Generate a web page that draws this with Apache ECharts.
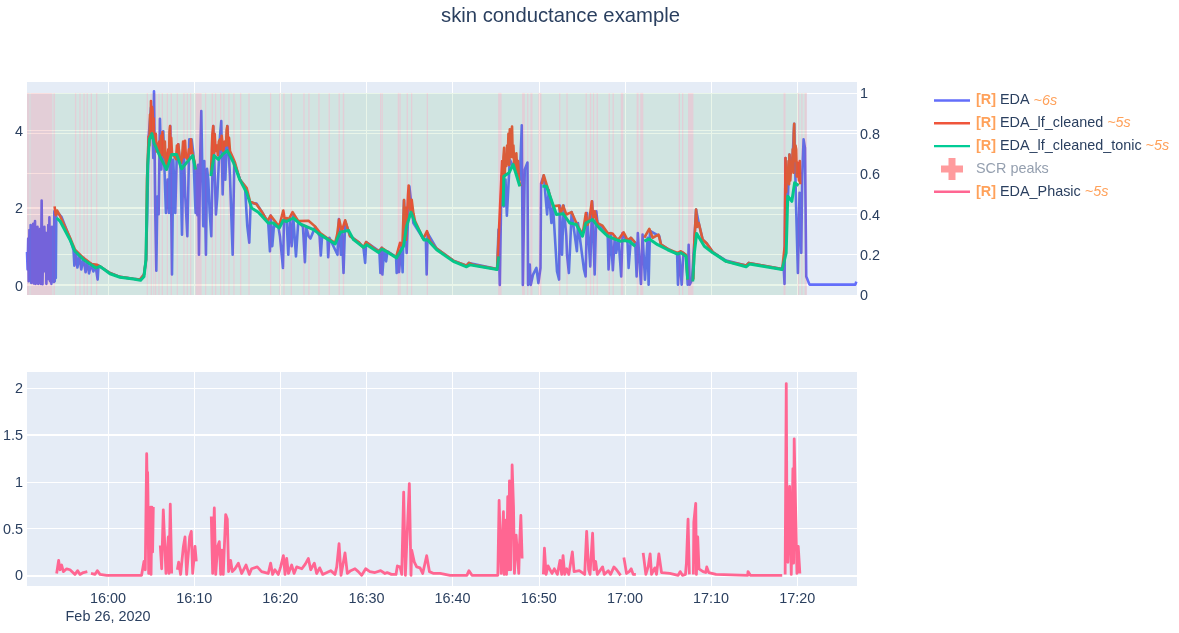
<!DOCTYPE html>
<html><head><meta charset="utf-8">
<style>html,body{margin:0;padding:0;background:#fff}#c{width:1179px;height:633px}</style>
<script src="https://cdn.jsdelivr.net/npm/echarts@6/dist/echarts.min.js"></script>
</head><body><div id="c"></div>
<script>
// All series: [minutes relative to 16:00 on Feb 26 2020, value]; null marks a gap.
const edaPoints=[[-9.4,.85],[-9.33,.4],[-9.26,1.2],[-9.2,.1],[-9.12,1.42],[-9.05,.35],[-8.98,1.55],[-8.9,.05],[-8.83,1.2],[-8.75,.4],[-8.68,1.58],[-8.6,.04],[-8.53,1.1],[-8.47,1.65],[-8.4,.03],[-8.33,1.3],[-8.26,.35],[-8.18,1.5],[-8.1,.03],[-8.02,1.2],[-7.95,.05],[-7.88,1.45],[-7.8,.03],[-7.7,2.18],[-7.6,.02],[-7.52,1.1],[-7.45,.35],[-7.38,1.5],[-7.3,.4],[-7.22,1.35],[-7.15,.03],[-7.07,1],[-7,.4],[-6.93,1.55],[-6.85,.15],[-6.8,1.75],[-6.72,.1],[-6.65,1.3],[-6.57,.03],[-6.5,1.5],[-6.42,.12],[-6.35,1.35],[-6.28,.08],[-6.23,1.9],[-6.18,.1],[-6.12,1.8],[-6.06,.18],[-6,1.85],[-5.76,1.85],[-5.38,1.75],[-4.41,1.2],[-4,.9],[-3.9,.5],[-3.7,.85],[-3.55,.45],[-3.3,.75],[-3.1,.4],[-2.85,.7],[-2.6,.33],[-2.4,.62],[-2.2,.3],[-1.95,.55],[-1.7,.35],[-1.45,.5],[-1.2,.14],[-1.1,.5],[-.93,.48],[.23,.31],[1.39,.21],[2.94,.16],[3.71,.14],[4.18,.27],[4.41,.65],[4.56,1.86],[4.72,3.83],[4.99,4.58],[5.14,4.45],[5.26,3.28],[5.34,5],[5.49,1.86],[5.61,.37],[5.73,2.28],[5.88,1.83],[6.03,4.29],[6.19,2.98],[6.42,3.97],[6.62,2.55],[6.73,1.86],[6.92,2.72],[7.08,1.86],[7.23,4.1],[7.43,.27],[7.58,3.24],[7.81,1.86],[7.97,3.24],[8.16,3.63],[8.43,2.98],[8.59,1.3],[8.78,3.67],[8.97,2.29],[9.21,1.26],[9.44,3.76],[9.71,3.76],[9.9,3.41],[10.17,1.86],[10.29,2.98],[10.38,1.8],[10.47,3.1],[10.56,.78],[10.7,3.3],[10.83,4.49],[10.95,2.9],[11.06,1.52],[11.18,3.2],[11.28,1.9],[11.37,.78],[11.5,3],[11.64,2.72],[11.8,1.9],[11.99,1.26],[12.22,4.1],[12.53,1.82],[12.69,2.29],[13,3.84],[13.15,4.23],[13.31,2.34],[13.46,3.59],[13.62,2.72],[13.85,4.1],[14.16,2.81],[14.47,.78],[14.66,3.16],[15.32,2.72],[15.9,2.55],[16.17,1.52],[16.4,1.09],[16.56,2.12],[17.25,2.1],[17.83,1.9],[18.6,1.6],[18.8,.87],[18.88,1.79],[19.07,1],[19.26,1.52],[19.77,1.52],[19.96,1.26],[20.31,.44],[20.43,1.69],[20.73,1.69],[20.93,.78],[21.12,1.69],[21.32,1],[21.5,1.78],[21.82,.74],[22.09,1.65],[22.63,1.5],[22.86,.59],[23,1.5],[23.28,1.26],[23.5,1.2],[24.05,1.5],[24.56,1.26],[24.7,.76],[24.85,1.26],[25.48,1.2],[25.56,.72],[25.7,1.22],[26.45,.87],[26.64,.78],[26.8,1.7],[27.03,.78],[27.14,1.45],[27.34,.31],[27.53,1.65],[28.1,1.26],[29.07,1.11],[29.65,.97],[29.85,.57],[29.96,1.11],[31.5,.87],[31.62,.31],[31.78,.96],[31.85,.27],[32.05,.91],[32.28,.61],[32.44,.87],[33.44,.72],[33.51,.31],[33.7,.91],[33.78,.33],[34.05,1],[34.2,.33],[34.36,2.19],[34.67,.83],[34.83,1.73],[34.98,2.55],[35.45,1.6],[35.64,1.65],[36.6,1.19],[36.9,1.17],[36.99,.27],[37.1,1.34],[38.15,.94],[40.08,.63],[41.62,.5],[41.9,.57],[45.17,.41],[45.33,1.43],[45.48,0],[45.68,2.81],[45.95,2.03],[46.14,2.72],[46.3,1.79],[46.64,3.24],[47.8,2.72],[48.03,4.12],[48.15,0],[48.38,2.98],[48.69,3.16],[48.76,0],[48.96,.53],[49.07,0],[49.34,.27],[49.73,.44],[49.96,.05],[50.2,.44],[50.27,2.62],[50.58,2.83],[50.97,1.82],[51.16,2.45],[51.47,1.6],[51.66,2.03],[52.12,.35],[52.36,.14],[52.44,2.05],[52.7,.78],[52.89,2.05],[53.2,1.26],[53.28,.78],[53.5,.31],[53.82,1.88],[54.43,.87],[54.55,1.6],[55.25,.4],[55.44,.22],[55.6,1.86],[55.98,.48],[56.2,2.16],[56.49,.27],[56.68,1.9],[56.82,1.6],[58,1.34],[58.1,.4],[58.37,1.34],[58.6,.38],[58.83,1.26],[58.99,.83],[59.26,1.19],[59.57,.22],[59.73,1.34],[60.31,1.09],[60.43,.44],[60.7,1.22],[61.2,1.09],[61.36,.22],[61.5,1.34],[61.86,.03],[62.05,1.3],[62.33,.14],[62.64,1.22],[62.75,.01],[62.91,1.4],[63.99,1.26],[64.2,1.04],[65.16,.91],[66.06,.8],[66.16,.01],[66.32,.78],[66.59,.01],[66.79,.83],[67.1,.74],[67.29,.01],[67.4,1.04],[67.52,.01],[67.79,.14],[68.06,1.13],[68.26,1.95],[68.57,1.6],[69.03,1.17],[69.5,1.07],[70.2,.85],[71.74,.63],[74.07,.5],[74.38,.57],[78.26,.41],[78.41,.53],[78.53,.03],[78.64,3.28],[78.9,2.12],[79.1,3.37],[79.4,2.98],[79.65,4.16],[79.88,1.95],[80.08,.31],[80.27,2.38],[80.47,.83],[80.58,2.81],[80.74,3.76],[80.9,3.54],[81.05,.22],[81.43,.01],[86.75,.01],[86.86,.09]];
const cleanedPoints=[[-6.2,2.03],[-6.05,1.8],[-5.9,1.92],[-5.76,1.88],[-5.6,1.8],[-5.38,1.78],[-4.4,1.22],[-3.83,.91],[-2.86,.7],[-1.9,.54],[-1.24,.52],[-.93,.48],[.23,.31],[1.39,.21],[2.94,.16],[3.71,.14],[4.18,.27],[4.41,.65],[4.53,2.72],[4.64,3.4],[4.72,3.83],[4.8,3.6],[4.88,4.4],[4.94,3.8],[4.99,4.75],[5.05,3.95],[5.12,4.6],[5.18,4.49],[5.24,3.8],[5.3,4.3],[5.34,3.76],[5.45,3.6],[5.55,3.9],[5.65,3.45],[5.84,3.41],[5.95,3.7],[6.05,3.4],[6.15,3.85],[6.22,3.35],[6.32,3.95],[6.42,3.93],[6.52,3.3],[6.6,3.7],[6.69,3.24],[6.8,3.1],[6.92,3.15],[7,3.5],[7.08,3.2],[7.14,3.95],[7.2,4.1],[7.27,3.4],[7.34,3.8],[7.43,3.41],[7.6,3.35],[7.78,3.37],[7.9,3.25],[8,3.6],[8.08,3.3],[8.16,3.63],[8.3,3.3],[8.47,3.15],[8.6,3.3],[8.72,3.7],[8.8,3.3],[8.94,3.72],[9.05,3.3],[9.25,3.24],[9.4,3.5],[9.55,3.4],[9.63,3.76],[9.75,3.45],[9.9,3.46],[10.03,3.2],[10.17,2.98],[10.2,null],[11.95,2.85],[12.05,3.5],[12.12,3.9],[12.22,4.1],[12.3,3.4],[12.38,3.9],[12.5,3.46],[12.65,3.6],[12.75,3.35],[12.87,3.7],[13,3.76],[13.1,3.5],[13.2,3.85],[13.38,3.46],[13.55,3.7],[13.7,3.6],[13.77,4],[13.85,4.1],[13.95,3.6],[14.05,3.8],[14.16,3.46],[14.74,3.16],[15.3,2.72],[16.1,2.5],[16.48,2.16],[17.25,2.08],[17.83,1.9],[18.5,1.65],[18.88,1.79],[19.57,1.59],[19.88,1.52],[20.35,1.92],[20.55,1.65],[20.73,1.73],[21,1.7],[21.43,1.88],[22.09,1.65],[23.28,1.66],[24,1.52],[24.63,1.34],[25.4,1.22],[26.37,1.09],[26.6,1.3],[26.83,1.69],[27.14,1.39],[27.53,1.67],[28.1,1.26],[29.07,1.11],[29.65,.97],[29.96,1.11],[30.8,.96],[31.4,.87],[31.78,.96],[32.36,.87],[33.44,.72],[33.9,1.09],[34.17,1],[34.36,2.19],[34.45,1.5],[34.52,2],[34.6,1.17],[34.72,1.8],[34.82,2.3],[34.9,2.57],[34.97,2.57],[35.05,2],[35.13,1.9],[35.25,2.2],[35.33,2.16],[35.45,1.85],[35.64,1.65],[36.6,1.19],[37.03,1.39],[37.37,1.13],[38.15,.94],[40.08,.63],[41.62,.5],[41.9,.57],[42.4,.52],[45.17,.41],[45.37,1.34],[45.75,3.2],[45.82,2.5],[45.9,3.3],[45.98,3.54],[46.05,2.8],[46.12,3.3],[46.25,3.07],[46.33,3.6],[46.4,3.2],[46.48,3.9],[46.56,3.1],[46.64,4.02],[46.72,3.3],[46.8,3.85],[46.9,4.09],[46.98,3.3],[47.06,3.6],[47.14,3.15],[47.22,3.33],[47.3,3.05],[47.4,3.4],[47.5,2.9],[47.6,3.2],[47.7,2.7],[47.88,2.55],[47.9,null],[50.35,2.6],[50.58,2.83],[50.97,2.55],[51.66,2.03],[52.32,2.05],[52.55,1.85],[52.82,2.05],[53.2,1.82],[53.82,1.88],[54.36,1.6],[55.08,1.3],[55.47,1.86],[55.65,1.55],[55.85,1.65],[56.16,2.16],[56.32,1.7],[56.5,1.9],[56.82,1.6],[57.4,1.53],[58,1.34],[58.57,1.33],[58.95,1.22],[59.22,1.16],[59.85,1.36],[60.31,1.16],[60.7,1.22],[61.2,1.09],[61.25,null],[62.25,1.22],[62.83,1.45],[63.22,1.22],[63.9,1.3],[64.2,1.04],[65.16,.91],[66.12,.83],[66.5,.87],[67.1,.78],[67.29,.14],[67.32,null],[67.95,.14],[68.06,1.13],[68.26,1.95],[68.4,1.5],[68.57,1.6],[69.03,1.17],[69.5,1.07],[70.2,.85],[71.74,.61],[74.07,.5],[74.38,.57],[78.26,.41],[78.55,1],[78.64,3.28],[78.72,2.4],[78.8,3],[78.9,2.72],[79,3.2],[79.06,2.6],[79.1,3.37],[79.2,2.7],[79.3,3.1],[79.4,2.98],[79.48,3.5],[79.56,2.9],[79.6,3.9],[79.65,4.16],[79.72,3.2],[79.8,3.6],[79.88,3.5],[79.95,2.8],[80.08,3.15],[80.2,2.7],[80.3,3.2],[80.35,2.6]];
const tonicPoints=[[-5.96,1.73],[-5.57,1.65],[-4.41,1.17],[-3.83,.87],[-2.86,.66],[-1.39,.44],[-.93,.48],[.23,.29],[1.39,.2],[2.94,.155],[3.79,.12],[4.18,.22],[4.41,.65],[4.6,3.07],[4.8,3.76],[5.1,3.91],[5.34,3.67],[6.11,3.28],[6.8,2.98],[7.39,3.37],[7.97,3.37],[8.55,3],[9.13,3.16],[9.83,3.34],[10.17,2.98],[10.2,null],[11.95,2.81],[12.3,3.34],[12.8,3.24],[13.3,3.37],[13.85,3.47],[14.55,3.17],[15.3,2.72],[16.1,2.38],[16.67,1.99],[17.45,1.88],[18.6,1.6],[19.19,1.6],[19.88,1.47],[20.35,1.67],[20.73,1.64],[21.5,1.73],[22.3,1.58],[23.86,1.43],[24.63,1.3],[26.37,1.06],[26.95,1.36],[27.92,1.41],[28.5,1.17],[29.65,.97],[30.04,1.04],[31.4,.84],[31.78,.93],[32.36,.86],[33.5,.7],[34.3,1],[34.67,1.52],[35.17,1.88],[35.64,1.6],[36.68,1.16],[37.07,1.17],[38.15,.91],[40.08,.61],[41.62,.47],[42,.52],[45.17,.4],[45.37,.74],[45.4,null],[45.87,2.03],[45.95,2.81],[46.56,2.9],[47.03,3.11],[47.8,2.55],[47.85,null],[50.42,2.55],[50.9,2.55],[52.05,1.82],[52.82,1.84],[53.6,1.6],[54.36,1.56],[55.08,1.26],[55.47,1.6],[56.24,1.69],[57.02,1.47],[58,1.26],[58.95,1.17],[59.53,1.13],[59.92,1.15],[60.5,1.13],[61.2,1],[61.25,null],[62.25,1.13],[62.83,1.19],[63.8,1.04],[64.96,.91],[66.12,.8],[66.5,.83],[67.1,.74],[67.29,.14],[67.32,null],[67.87,.09],[68.06,.83],[68.33,1.33],[69.22,1],[70.2,.83],[71.74,.61],[74.07,.47],[74.46,.54],[78.26,.4],[78.72,.83],[78.9,2.29],[79.38,2.16],[79.7,2.64],[80.16,2.57]];
const phasicPoints=[[-5.96,.02],[-5.73,.16],[-5.57,.06],[-5.38,.11],[-5.18,.04],[-4.8,.07],[-4.41,.06],[-3.83,.01],[-3.52,.05],[-3.25,.01],[-2.86,.03],[-2.4,.04],[-2.3,null],[-1.97,.02],[-1.5,.01],[-1.24,.05],[-.93,.01],[-.15,0],[3.9,0],[4.18,.15],[4.33,.06],[4.49,1.3],[4.56,.9],[4.6,1.1],[4.64,.84],[4.72,.02],[4.84,.41],[4.95,.73],[5,.01],[5.1,.73],[5.18,.25],[5.26,.73],[5.3,null],[6.07,.32],[6.23,.07],[6.42,.7],[6.58,.7],[6.73,.02],[6.85,.01],[7,.41],[7.08,.02],[7.23,.76],[7.39,.02],[7.42,null],[8.05,.06],[8.2,.14],[8.43,.01],[8.74,.3],[8.94,.41],[9.13,.01],[9.48,.41],[9.67,.47],[9.83,.02],[10.1,.31],[10.25,.15],[10.3,null],[11.99,.63],[12.15,.02],[12.34,.72],[12.5,.01],[12.73,.31],[12.92,.36],[13.08,.01],[13.23,.27],[13.38,.01],[13.66,.65],[13.85,.6],[14,.04],[14.24,.16],[14.43,.04],[14.74,.07],[15.13,.13],[15.52,.02],[16.02,.11],[16.4,.01],[16.67,.07],[17.33,.09],[17.83,.04],[18.6,.02],[18.88,.13],[19.11,.01],[19.38,.06],[19.77,.01],[20.04,.09],[20.36,.21],[20.55,.01],[20.74,.18],[20.95,.02],[21.32,.11],[21.6,.02],[21.9,.09],[22.5,.07],[22.9,.12],[23.26,.18],[23.53,.06],[23.95,.13],[24.22,.02],[24.57,.08],[24.92,.01],[25.85,.05],[26.35,.01],[26.55,.09],[26.82,.34],[27.05,0],[27.51,.24],[27.78,.02],[28.17,.05],[28.67,.07],[29.05,.04],[29.45,0],[29.91,.07],[30.4,.04],[30.99,.03],[31.65,.05],[32.15,.02],[32.4,.03],[32.9,.01],[33.43,.01],[33.59,.1],[33.9,.09],[34.1,.01],[34.32,.89],[34.52,0],[34.98,.98],[35.17,0],[35.25,.27],[35.56,.14],[35.83,.09],[36.22,.08],[36.53,.02],[36.99,.21],[37.31,.04],[37.8,.02],[38.55,.02],[39.7,0],[40,0],[41.66,0],[41.9,.05],[42.25,0],[45.25,0],[45.4,.8],[45.64,.02],[45.9,.68],[45.98,.01],[46.18,.59],[46.26,.01],[46.4,.84],[46.52,.06],[46.6,1.01],[46.75,.06],[46.91,1.18],[47.07,.73],[47.18,.02],[47.37,.43],[47.53,.45],[47.68,.02],[47.76,.3],[47.92,.64],[48.07,.18],[48.12,null],[50.54,.01],[50.66,.29],[50.85,.01],[51.08,.1],[51.31,.1],[51.54,.02],[51.81,.07],[52.16,.01],[52.47,.16],[52.66,.01],[52.82,.21],[53.01,.01],[53.24,.07],[53.49,.01],[53.9,.25],[54.1,.04],[54.71,.05],[55.33,.01],[55.56,.47],[55.79,.06],[55.95,.01],[56.25,.45],[56.41,.06],[56.6,.15],[56.8,.01],[57.41,.09],[57.6,.01],[58.07,.05],[58.34,.01],[58.73,.09],[59.03,.06],[59.5,0],[59.55,null],[59.88,.19],[60.19,.02],[60.5,.04],[60.73,.07],[60.96,.01],[61.27,.01],[61.32,null],[62.12,.24],[62.43,.01],[62.7,.09],[62.93,.23],[63.09,.01],[63.47,.08],[63.67,.01],[63.94,.23],[64.25,.03],[65.21,.02],[66.18,0],[66.41,.04],[66.68,0],[67.03,.01],[67.14,.13],[67.33,.6],[67.48,.01],[67.52,null],[67.95,.01],[68,.57],[68.22,.77],[68.3,.01],[68.45,.41],[68.6,.07],[69.07,.04],[69.38,.03],[69.5,.09],[69.73,.03],[70.58,.01],[74.25,0],[74.29,.04],[74.56,0],[78.26,0],[78.3,null],[78.6,.01],[78.73,2.05],[78.8,.72],[78.92,.14],[79.12,.95],[79.31,.01],[79.5,1.14],[79.58,.13],[79.65,1.46],[79.8,.77],[79.97,.02],[80.12,.31],[80.31,.02]];
const artifactStarts=[-9.44,-9,-6.33,-3.83,-3.33,-2.86,-2.48,-2.01,-1.39,4.49,4.95,5.26,5.45,5.84,6.23,6.81,7.27,7.97,8.74,9.13,9.52,10.17,11.26,12.03,12.42,13,13.38,13.97,14.55,15.32,16.29,18.8,19.88,20.35,21.2,22.67,23.25,24.41,25.6,26.76,27.26,31.58,31.78,33.63,33.82,34.67,35.17,36.99,45.29,48.07,48.65,49.03,49.96,52.36,53.2,55.44,55.93,56.29,56.71,58.1,58.57,59.53,61.36,61.78,66.24,66.63,67.33,78.41,80.08,80.47,80.85];
const artifactEnds=[-9.1,-6.45,-6.15,-3.68,-3.18,-2.71,-2.33,-1.86,-1.24,4.64,5.1,5.37,5.6,5.99,6.38,6.96,7.42,8.12,8.89,9.28,9.67,10.87,11.41,12.18,12.57,13.15,13.53,14.12,14.7,15.47,16.44,18.95,20.03,20.5,21.35,22.82,23.4,24.56,25.75,26.91,27.41,31.73,31.9,33.78,33.97,34.82,35.32,37.14,45.68,48.38,48.8,49.27,50.31,52.51,53.35,55.59,56.08,56.44,56.86,58.25,58.72,59.81,61.59,62.13,66.39,66.78,67.95,78.64,80.23,80.62,81.12];
const validStart=-9.44, validEnd=81.12;
const xMinMinutes=-9.4, xMaxMinutes=86.94;
const xTickMinutes=[0,10,20,30,40,50,60,70,80];
const topTicksLeft=[0,2,4], topTicksRight=[0,.2,.4,.6,.8,1], phasicTicks=[0,.5,1,1.5,2];
const legendParts={
 'EDA':['[R]','EDA','~6s'],
 'EDA_lf_cleaned':['[R]','EDA_lf_cleaned','~5s'],
 'EDA_lf_cleaned_tonic':['[R]','EDA_lf_cleaned_tonic','~5s'],
 'EDA_Phasic':['[R]','EDA_Phasic','~5s']
};
const C={eda:'#636EFA',cleaned:'#EF553B',tonic:'#00CC96',peaks:'#FF8285',phasic:'#FF6692',text:'#2a3f5f',plot:'#E5ECF6',orange:'#FFA15A'};
const FONT='"Liberation Sans", Arial, sans-serif';
const FS=14.4;
const base=new Date(2020,1,26,16,0,0).getTime();
const T=m=>base+m*60000;
const pts=a=>a.map(p=>[T(p[0]),p[1]]);
// green fills the stretches between artifact bands
const validAreas=[];
{let s=validStart;artifactStarts.forEach((a,i)=>{if(a>s)validAreas.push([{xAxis:T(s),yAxis:0},{xAxis:T(a),yAxis:1}]);s=artifactEnds[i];});}
const xTicks=xTickMinutes.map(T);
const lineIcon='path://M0 0h.01v.01h-.01z M36 22h-.01v-.01h.01z M0 9.8H36V12.2H0Z';
const crossIcon='path://M0 0h.01v.01h-.01z M36 22h-.01v-.01h.01z M14.5 0H21.5V7.5H29V14.5H21.5V22H14.5V14.5H7V7.5H14.5Z';
const lineSeries=(name,data,color,y,w,z)=>({name,type:'line',xAxisIndex:y==2?1:0,yAxisIndex:y,data:pts(data),showSymbol:false,symbol:'none',connectNulls:false,z,
  itemStyle:{color},lineStyle:{color,width:w,join:'round'},emphasis:{disabled:true}});
const xAxisBase={type:'value',scale:true,min:T(xMinMinutes),max:T(xMaxMinutes),
  axisLine:{show:false},axisTick:{show:false,customValues:xTicks},splitLine:{show:true,lineStyle:{color:'#fff',width:1}}};
const yAxisBase={type:'value',axisLine:{show:false},splitLine:{show:true,lineStyle:{color:'#fff',width:1}}};
const labelStyle={color:C.text,fontSize:FS,fontFamily:FONT};
const yLabel=(ticks,margin,pad)=>Object.assign({},labelStyle,{margin,customValues:ticks,formatter:v=>`{a|${v}}`,
  rich:{a:{color:C.text,fontSize:FS,fontFamily:FONT,padding:[pad,0,0,0]}}});
const chart=echarts.init(document.getElementById('c'));
const gridDefs=[{left:27,right:322,top:82,height:213,backgroundColor:C.plot,show:true,borderWidth:0},
                {left:27,right:322,top:372,height:214,backgroundColor:C.plot,show:true,borderWidth:0}];
chart.setOption({
 animation:false,backgroundColor:'#fff',textStyle:{fontFamily:FONT},
 title:{text:'skin conductance example',left:436,top:1,textStyle:{color:C.text,fontSize:20.3,fontWeight:'normal',fontFamily:FONT}},
 grid:gridDefs,
 legend:{left:934,top:89.5,orient:'vertical',padding:0,itemWidth:36,itemHeight:22,itemGap:.8,selectedMode:false,align:'left',
  data:[{name:'EDA',icon:lineIcon},{name:'EDA_lf_cleaned',icon:lineIcon},{name:'EDA_lf_cleaned_tonic',icon:lineIcon},
        {name:'SCR peaks',icon:crossIcon},{name:'EDA_Phasic',icon:lineIcon}],
  textStyle:{fontSize:FS,fontFamily:FONT,color:C.text,
   rich:{r:{color:C.orange,fontWeight:'bold',fontSize:FS,fontFamily:FONT,padding:[0,0,0,1]},n:{color:C.text,fontSize:FS,fontFamily:FONT},s:{color:C.orange,fontStyle:'italic',fontSize:FS,fontFamily:FONT},g:{color:'#949FAF',fontSize:FS,fontFamily:FONT,padding:[0,0,0,1]}}},
  formatter:n=>{const p=legendParts[n];return p?`{r|${p[0]}} {n|${p[1]}} {s|${p[2]}}`:`{g|${n}}`;}},
 xAxis:[Object.assign({},xAxisBase,{gridIndex:0,axisLabel:{show:false}}),
        Object.assign({},xAxisBase,{gridIndex:1,axisLabel:Object.assign({},labelStyle,{margin:4,lineHeight:18,hideOverlap:false,customValues:xTicks,
          formatter:v=>{const d=new Date(v);const s=String(d.getHours()).padStart(2,'0')+':'+String(d.getMinutes()).padStart(2,'0');return s==='16:00'?s+'\nFeb 26, 2020':s;}})})],
 yAxis:[Object.assign({},yAxisBase,{gridIndex:0,position:'left',min:-.258,max:5.24,axisTick:{show:false,customValues:topTicksLeft},axisLabel:yLabel(topTicksLeft,4,4)}),
        Object.assign({},yAxisBase,{gridIndex:0,position:'right',min:0,max:1.054,axisTick:{show:false,customValues:topTicksRight},axisLabel:yLabel(topTicksRight,3,3)}),
        Object.assign({},yAxisBase,{gridIndex:1,min:-.114,max:2.174,axisTick:{show:false,customValues:phasicTicks},axisLabel:yLabel(phasicTicks,4,2)})],
 series:[
  {name:'bands',type:'line',xAxisIndex:0,yAxisIndex:1,data:[],z:10,
   markArea:{silent:true,z:10,itemStyle:{color:'rgba(44,160,44,0.1)'},data:validAreas}},
  {name:'artifacts',type:'line',xAxisIndex:0,yAxisIndex:1,data:[],z:10,
   markArea:{silent:true,z:10,itemStyle:{color:'rgba(214,39,40,0.15)'},data:artifactStarts.map((s,i)=>[{xAxis:T(s),yAxis:0},{xAxis:T(artifactEnds[i]),yAxis:1}])}},
  {name:'zero1',type:'line',xAxisIndex:0,yAxisIndex:0,data:[],z:1,markLine:{silent:true,z:1,symbol:'none',label:{show:false},lineStyle:{color:'#fff',width:2,type:'solid'},data:[{yAxis:0},{yAxis:2}]}},
  {name:'zero2',type:'line',xAxisIndex:1,yAxisIndex:2,data:[],z:1,markLine:{silent:true,z:1,symbol:'none',label:{show:false},lineStyle:{color:'#fff',width:2,type:'solid'},data:[{yAxis:0},{yAxis:1.5}]}},
  lineSeries('EDA',edaPoints,C.eda,0,2.6,3),
  lineSeries('EDA_lf_cleaned',cleanedPoints,C.cleaned,0,2.6,4),
  lineSeries('EDA_lf_cleaned_tonic',tonicPoints,C.tonic,0,3,5),
  {name:'SCR peaks',type:'scatter',xAxisIndex:0,yAxisIndex:0,data:[],itemStyle:{color:C.peaks}},
  lineSeries('EDA_Phasic',phasicPoints,C.phasic,2,2.8,3)
 ]
});
</script></body></html>
